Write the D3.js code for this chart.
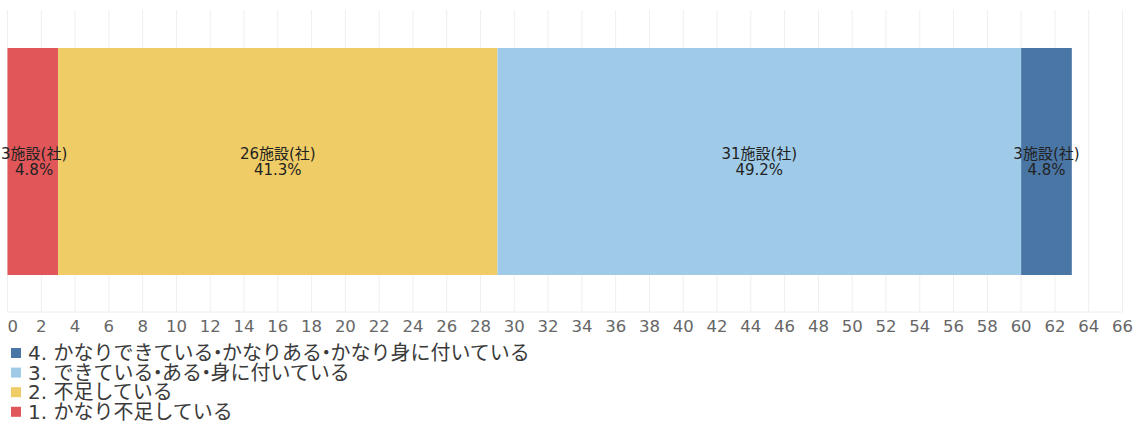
<!DOCTYPE html>
<html>
<head>
<meta charset="utf-8">
<script src="https://cdn.jsdelivr.net/npm/d3@7"></script>
<style>
body { margin: 0; background: #fff; }
svg { display: block; font-family: "DejaVu Sans", "Noto Sans CJK JP", sans-serif; }
</style>
</head>
<body>
<div id="chart"></div>
<script>
let categories = ["1. かなり不足している", "2. 不足している", "3. できている・ある・身に付いている", "4. かなりできている・かなりある・かなり身に付いている"];
let counts = [3, 26, 31, 3];
let percents = ["4.8%", "41.3%", "49.2%", "4.8%"];
let colors = ["#E15759", "#EFCC65", "#A0CBE8", "#4A76A5"];
let xTicks = d3.range(0, 67, 2);

let width = 1136, height = 421;
let margin = {left: 7.5, right: 13.5};

let svg = d3.select("#chart")
    .append("svg")
        .attr("width", width)
        .attr("height", height);

let x = d3.scaleLinear()
    .domain([0, 66])
    .range([margin.left, width - margin.right]);

// grid
svg.append("g")
    .selectAll("line")
    .data(xTicks)
    .enter()
    .append("line")
    .attr("x1", d => x(d)).attr("x2", d => x(d))
    .attr("y1", 10).attr("y2", 312)
    .attr("stroke", "#efefef")
    .attr("stroke-width", 1);

svg.append("line")
    .attr("x1", x(0)).attr("x2", x(66))
    .attr("y1", 312).attr("y2", 312)
    .attr("stroke", "#eeeeee");

// stacked bar
let stack = [];
let acc = 0;
counts.forEach((c, i) => { stack.push({start: acc, end: acc + c, i: i}); acc += c; });

svg.append("g")
    .selectAll("rect")
    .data(stack)
    .enter()
    .append("rect")
    .attr("x", d => x(d.start))
    .attr("y", 48)
    .attr("width", d => x(d.end) - x(d.start))
    .attr("height", 227)
    .attr("fill", d => colors[d.i]);

// labels, two lines each
let labelG = svg.append("g")
    .selectAll("g")
    .data(stack)
    .enter()
    .append("g");
labelG.append("text")
    .attr("y", 159)
    .attr("text-anchor", "middle")
    .attr("font-size", 15)
    .attr("fill", "#222")
    .text(d => counts[d.i] + "施設(社)");
labelG.append("text")
    .attr("y", 175)
    .attr("text-anchor", "middle")
    .attr("font-size", 15)
    .attr("fill", "#222")
    .text(d => percents[d.i]);
labelG.each(function (d) {
    let w = this.getBBox().width;
    let cx = (x(d.start) + x(d.end)) / 2;
    cx = Math.max(cx, w / 2 + 1);
    d3.select(this).selectAll("text").attr("x", cx);
});

// x axis labels
svg.append("g")
    .selectAll("text")
    .data(xTicks)
    .enter()
    .append("text")
    .attr("x", d => x(d))
    .attr("y", 332)
    .attr("text-anchor", d => d == 0 ? "start" : "middle")
    .attr("font-size", 16.5)
    .attr("fill", "#666")
    .text(d => d);

// legend (reverse order)
let legendData = categories.map((c, i) => ({name: c, color: colors[i]})).reverse();
let fs = 20;
let legend = svg.append("g")
    .selectAll("g")
    .data(legendData)
    .enter()
    .append("g")
    .attr("transform", (d, i) => "translate(11," + (353 + i * 19.6) + ")");
legend.append("rect")
    .attr("x", 0).attr("y", -5)
    .attr("width", 10).attr("height", 10)
    .attr("fill", d => d.color);
legend.append("text")
    .attr("x", 17)
    .attr("y", 7)
    .attr("font-size", fs)
    .attr("fill", "#3a3a3a")
    .each(function (d) {
        // narrow the middle dots like the original
        let t = d3.select(this);
        let parts = d.name.split("・");
        let squeeze = -(fs - 8.5) / 2;
        parts.forEach((p, k) => {
            if (k > 0) t.append("tspan").attr("dx", squeeze).text("・");
            t.append("tspan").attr("dx", k > 0 ? squeeze : 0).text(p);
        });
    });
</script>
</body>
</html>
